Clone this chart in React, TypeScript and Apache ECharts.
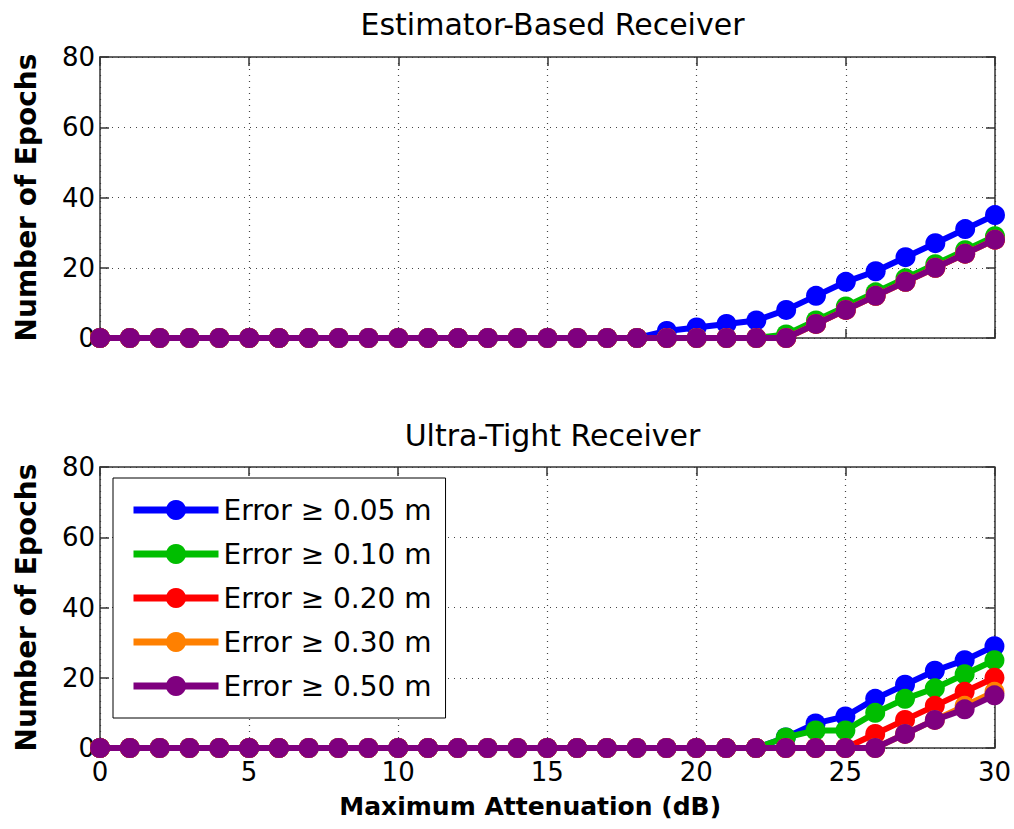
import React, { useEffect, useRef } from "react";
import * as echarts from "echarts";

const attenuation = [0, 1, 2, 3, 4, 5, 6, 7, 8, 9, 10, 11, 12, 13, 14, 15, 16, 17, 18, 19, 20, 21, 22, 23, 24, 25, 26, 27, 28, 29, 30];

const seriesNames = ["Error \u2265 0.05 m", "Error \u2265 0.10 m", "Error \u2265 0.20 m", "Error \u2265 0.30 m", "Error \u2265 0.50 m"];
const seriesColors = ["#0000FF", "#00BE00", "#FF0000", "#FF8000", "#7F007F"];

// Estimator-Based Receiver
const topBlue = [0, 0, 0, 0, 0, 0, 0, 0, 0, 0, 0, 0, 0, 0, 0, 0, 0, 0, 0, 2, 3, 4, 5, 8, 12, 16, 19, 23, 27, 31, 35];
const topGreen = [0, 0, 0, 0, 0, 0, 0, 0, 0, 0, 0, 0, 0, 0, 0, 0, 0, 0, 0, 0, 0, 0, 0, 1, 5, 9, 13, 17, 21, 25, 29];
const topRed = [0, 0, 0, 0, 0, 0, 0, 0, 0, 0, 0, 0, 0, 0, 0, 0, 0, 0, 0, 0, 0, 0, 0, 0, 4, 8, 12, 16, 20, 24, 28];
const topOrange = [0, 0, 0, 0, 0, 0, 0, 0, 0, 0, 0, 0, 0, 0, 0, 0, 0, 0, 0, 0, 0, 0, 0, 0, 4, 8, 12, 16, 20, 24, 28];
const topPurple = [0, 0, 0, 0, 0, 0, 0, 0, 0, 0, 0, 0, 0, 0, 0, 0, 0, 0, 0, 0, 0, 0, 0, 0, 4, 8, 12, 16, 20, 24, 28];

// Ultra-Tight Receiver
const botBlue = [0, 0, 0, 0, 0, 0, 0, 0, 0, 0, 0, 0, 0, 0, 0, 0, 0, 0, 0, 0, 0, 0, 0, 3, 7, 9, 14, 18, 22, 25, 29];
const botGreen = [0, 0, 0, 0, 0, 0, 0, 0, 0, 0, 0, 0, 0, 0, 0, 0, 0, 0, 0, 0, 0, 0, 0, 3, 5, 5, 10, 14, 17, 21, 25];
const botRed = [0, 0, 0, 0, 0, 0, 0, 0, 0, 0, 0, 0, 0, 0, 0, 0, 0, 0, 0, 0, 0, 0, 0, 0, 0, 0, 4, 8, 12, 16, 20];
const botOrange = [0, 0, 0, 0, 0, 0, 0, 0, 0, 0, 0, 0, 0, 0, 0, 0, 0, 0, 0, 0, 0, 0, 0, 0, 0, 0, 0, 4, 8, 12, 16];
const botPurple = [0, 0, 0, 0, 0, 0, 0, 0, 0, 0, 0, 0, 0, 0, 0, 0, 0, 0, 0, 0, 0, 0, 0, 0, 0, 0, 0, 4, 8, 11, 15];

const xTicks = { min: 0, max: 30, interval: 5 };
const yTicks = { min: 0, max: 80, interval: 20 };

const titles = ["Estimator-Based Receiver", "Ultra-Tight Receiver"];
const xName = "Maximum Attenuation (dB)";
const yName = "Number of Epochs";

const FONT = "DejaVu Sans";

export default function App() {
  const ref = useRef<HTMLDivElement>(null);

  useEffect(() => {
    if (!ref.current) return;
    const chart = echarts.init(ref.current, null, { renderer: "svg" });

    const gridLeft = 100;
    const gridWidth = 895;
    const gridH = 281;
    const grids = [
      { left: gridLeft, top: 57, width: gridWidth, height: gridH },
      { left: gridLeft, top: 467, width: gridWidth, height: gridH },
    ];

    const axisLine = { show: true, onZero: false, lineStyle: { color: "#333", width: 1.5 } };
    const tick = { show: true, inside: true, length: 9, lineStyle: { color: "#333", width: 1.5 } };
    const split = { show: true, lineStyle: { color: "#444", type: [1, 5] as any, width: 1.2 } };

    const xAxes: any[] = [];
    const yAxes: any[] = [];
    [0, 1].forEach((g) => {
      xAxes.push({
        type: "value",
        gridIndex: g,
        position: "bottom",
        ...xTicks,
        axisLine,
        axisTick: tick,
        splitLine: split,
        axisLabel: {
          show: g === 1,
          fontFamily: FONT,
          fontSize: 26,
          color: "#000",
          margin: 11,
        },
        name: g === 1 ? xName : "",
        nameLocation: "middle",
        nameGap: 46,
        nameTextStyle: { fontFamily: FONT, fontSize: 25, fontWeight: "bold", color: "#000", padding: [0, 34, 0, 0] },
      });
      xAxes.push({
        type: "value",
        gridIndex: g,
        position: "top",
        ...xTicks,
        axisLine,
        axisTick: tick,
        splitLine: { show: false },
        axisLabel: { show: false },
      });
      yAxes.push({
        type: "value",
        gridIndex: g,
        position: "left",
        ...yTicks,
        axisLine,
        axisTick: tick,
        splitLine: split,
        axisLabel: { fontFamily: FONT, fontSize: 26, color: "#000", margin: 5 },
        name: yName,
        nameLocation: "middle",
        nameRotate: 90,
        nameGap: 60,
        nameTextStyle: { fontFamily: FONT, fontSize: 28, fontWeight: "bold", color: "#000" },
      });
      yAxes.push({
        type: "value",
        gridIndex: g,
        position: "right",
        ...yTicks,
        axisLine,
        axisTick: tick,
        splitLine: { show: false },
        axisLabel: { show: false },
      });
    });

    const topData = [topBlue, topGreen, topRed, topOrange, topPurple];
    const botData = [botBlue, botGreen, botRed, botOrange, botPurple];

    const series: any[] = [];
    const mk = (data: number[], i: number, g: number) => ({
      type: "line",
      name: seriesNames[i],
      xAxisIndex: g * 2,
      yAxisIndex: g * 2,
      data: attenuation.map((x, k) => [x, data[k]]),
      symbol: "circle",
      symbolSize: 20,
      showSymbol: true,
      clip: false,
      color: seriesColors[i],
      lineStyle: { width: 6, color: seriesColors[i] },
      itemStyle: { color: seriesColors[i] },
      z: 2 + i,
    });
    topData.forEach((d, i) => series.push(mk(d, i, 0)));
    botData.forEach((d, i) => series.push(mk(d, i, 1)));

    chart.setOption({
      animation: false,
      backgroundColor: "#fff",
      title: [
        {
          text: titles[0],
          left: gridLeft + gridWidth / 2,
          textAlign: "center",
          top: 4,
          textStyle: { fontFamily: FONT, fontSize: 30, fontWeight: "normal", color: "#000" },
        },
        {
          text: titles[1],
          left: gridLeft + gridWidth / 2,
          textAlign: "center",
          top: 415,
          textStyle: { fontFamily: FONT, fontSize: 30, fontWeight: "normal", color: "#000" },
        },
      ],
      grid: grids,
      xAxis: xAxes,
      yAxis: yAxes,
      legend: {
        data: seriesNames,
        orient: "vertical",
        left: 113,
        top: 478,
        itemWidth: 85,
        itemHeight: 25,
        itemGap: 14,
        itemTextGap: 10,
        padding: [17, 14, 17, 17],
        backgroundColor: "#fff",
        borderColor: "#000",
        borderWidth: 1,
        lineStyle: { width: 7 },
        textStyle: { fontFamily: FONT, fontSize: 28, color: "#000", lineHeight: 30 },
        z: 20,
      },
      series,
    });

    return () => chart.dispose();
  }, []);

  return (
    <div
      ref={ref}
      style={{ position: "fixed", left: 0, top: 0, width: 1014, height: 829, background: "#fff" }}
    />
  );
}
